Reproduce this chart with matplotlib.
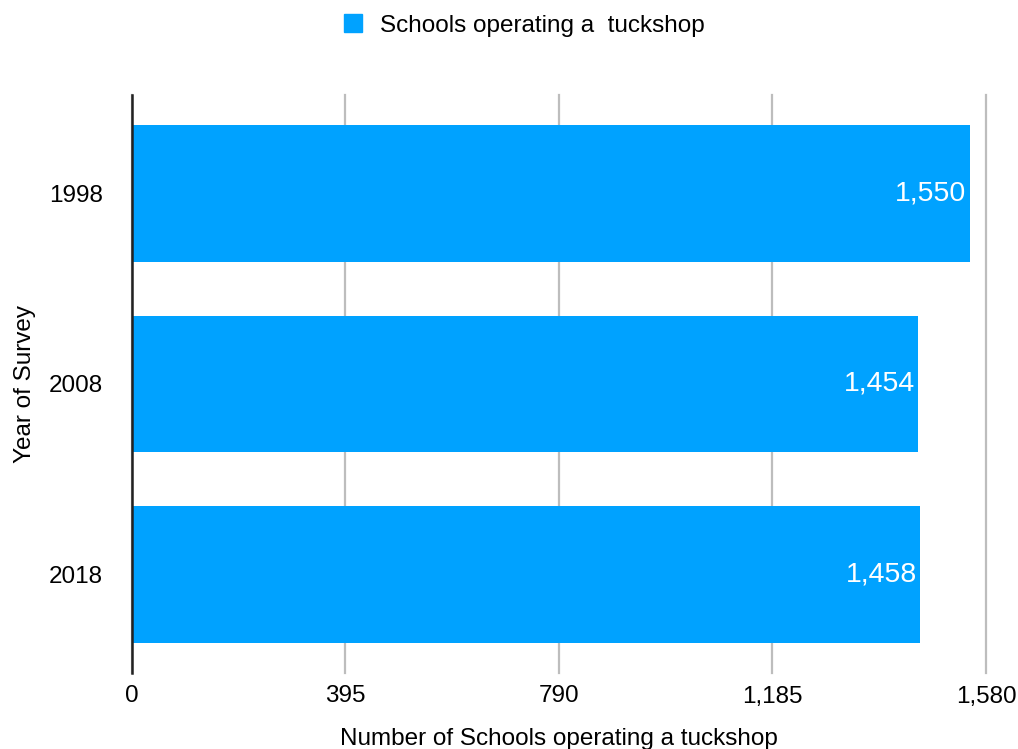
import matplotlib
matplotlib.use("Agg")
import matplotlib.pyplot as plt
from matplotlib.patches import Patch

years = ["1998", "2008", "2018"]
values = [1550, 1454, 1458]
xticks = [0, 395, 790, 1185, 1580]
xtick_labels = ["0", "395", "790", "1,185", "1,580"]
series_name = "Schools operating a  tuckshop"
xlabel = "Number of Schools operating a tuckshop"
ylabel = "Year of Survey"

plt.rcParams['font.family'] = ['Liberation Sans', 'DejaVu Sans']
color = "#00A2FF"

fig = plt.figure(figsize=(10.18, 7.49), dpi=100)
ax = fig.add_axes([132/1018, 1-673/749, (986-132)/1018, (673-95)/749])

pos = list(range(len(years)))
bars = ax.barh(pos, values, height=0.72, color=color, zorder=3)
ax.set_ylim(2.52, -0.52)
ax.set_xlim(0, 1580)
ax.set_yticks(pos)
ax.set_yticklabels(years)
ax.set_xticks(xticks)
ax.set_xticklabels(xtick_labels)
ax.tick_params(axis='both', length=0, labelsize=17.5)
ax.tick_params(axis='y', pad=21)
ax.tick_params(axis='x', pad=9)
ax.grid(axis='x', color="#BDBDBD", linewidth=1.6, zorder=0)
for gl in ax.get_xgridlines():
    gl.set_clip_on(False)
for s in ["top", "right", "bottom"]:
    ax.spines[s].set_visible(False)
ax.spines["left"].set_color("#222222")
ax.spines["left"].set_linewidth(1.8)
ax.spines["left"].set_zorder(4)

for p, v in zip(pos, values):
    ax.text(v - 6, p, f"{v:,}", ha="right", va="center", color="white", fontsize=20.5, zorder=5)

ax.set_xlabel(xlabel, fontsize=17.5, labelpad=15)
ax.set_ylabel(ylabel, fontsize=17.5, labelpad=9)

fig.legend(handles=[Patch(color=color, label=series_name)], loc="upper center",
           bbox_to_anchor=(0.515, 1.01), frameon=False, fontsize=17.5,
           handlelength=0.75, handleheight=0.75, handletextpad=0.75)

fig.savefig("out.png", dpi=100)
